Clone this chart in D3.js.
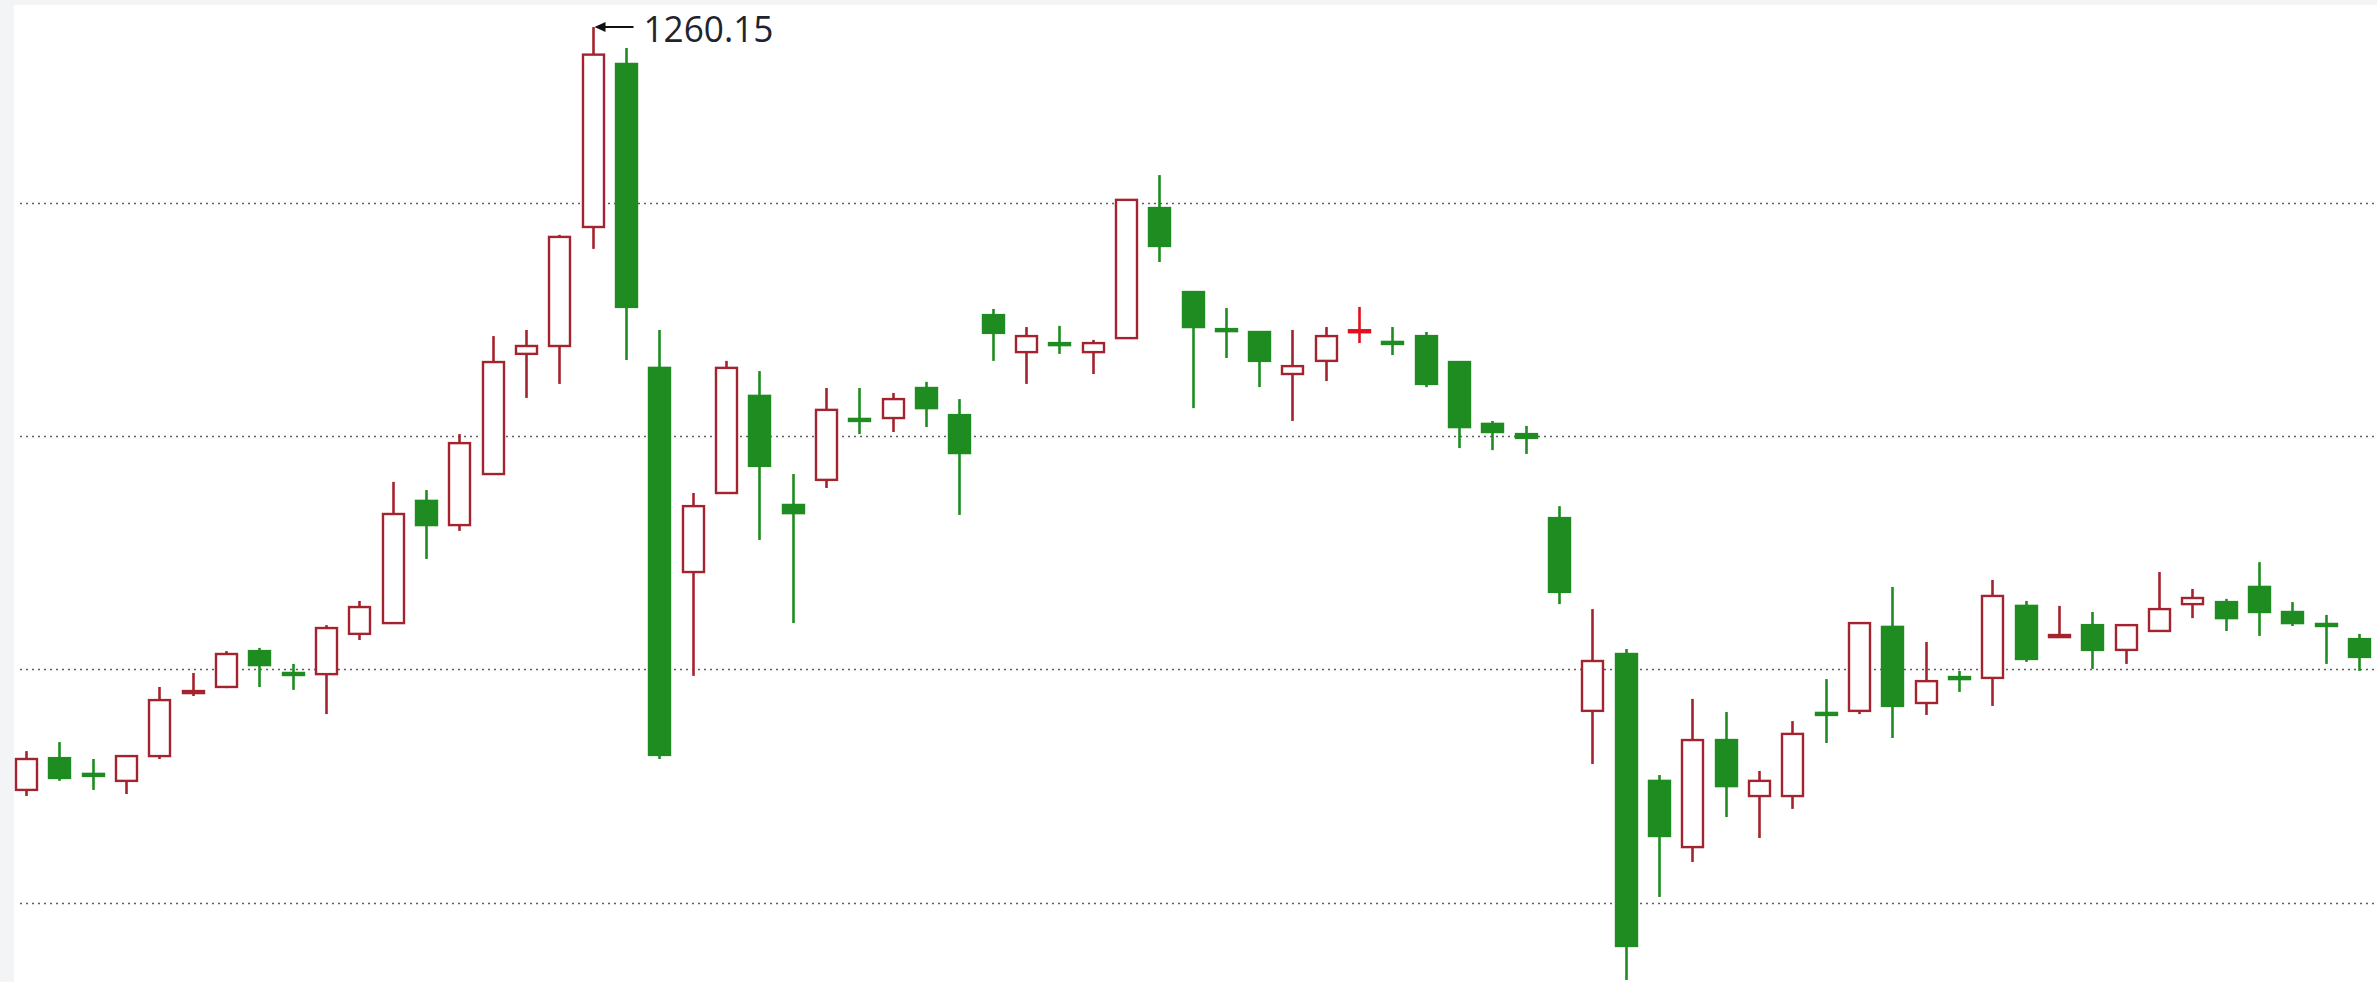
<!DOCTYPE html>
<html>
<head>
<meta charset="utf-8">
<script src="https://cdn.jsdelivr.net/npm/d3@7"></script>
<style>
  html, body { margin: 0; padding: 0; background: #f3f4f6; }
  svg { display: block; }
</style>
</head>
<body>
<svg id="chart" width="2377" height="982"></svg>
<script>
// ---- data ----
const days = d3.range(1, 72).map(String);
const opens  = [998.6,1009.5,1004.1,1001.7,1010.2,1031.8,1033.9,1046.2,1038.7,1038.3,1052.1,1055.8,1097.7,1089.4,1106.9,1148.1,1150.8,1191.6,1247.5,1143.3,1073.3,1100.4,1133.7,1096.3,1104.9,1125.8,1126.1,1136.4,1127.1,1161.4,1148.7,1151.8,1148.7,1153.5,1198.1,1169.3,1156.6,1155.6,1141.2,1145.7,1156.2,1152.2,1154.2,1145.3,1124.1,1120.6,1091.8,1025.7,1045.2,1001.7,979.0,1015.7,996.5,996.5,1025.0,1025.7,1054.5,1028.4,1037.3,1037.0,1061.7,1051.0,1055.1,1046.6,1053.1,1062.3,1063.0,1068.2,1059.6,1055.5,1050.3];
const highs  = [1011.9,1015.0,1009.2,1010.4,1033.9,1038.7,1046.2,1047.3,1041.8,1055.1,1063.4,1104.2,1101.4,1120.6,1154.2,1156.3,1188.9,1260.15,1253.0,1156.3,1100.4,1145.7,1142.2,1106.9,1136.4,1136.4,1134.7,1138.5,1132.6,1163.5,1157.3,1157.7,1152.9,1201.2,1209.4,1169.5,1163.8,1155.8,1156.3,1157.3,1164.2,1157.3,1155.6,1145.5,1125.1,1123.4,1095.9,1060.6,1046.9,1003.7,1029.8,1025.3,1005.1,1022.2,1036.6,1056.0,1068.2,1049.3,1039.4,1070.6,1063.4,1061.7,1059.6,1055.3,1073.3,1067.5,1064.1,1076.7,1063.0,1058.6,1052.1];
const lows   = [996.5,1001.7,998.6,997.2,1009.2,1030.8,1033.5,1033.9,1032.9,1024.6,1050.0,1055.5,1077.8,1087.4,1106.6,1133.0,1137.8,1184.1,1146.0,1009.2,1037.7,1100.1,1084.3,1055.8,1102.1,1120.6,1121.3,1123.0,1092.9,1145.7,1137.8,1148.1,1141.2,1153.3,1179.6,1129.5,1146.7,1136.7,1125.1,1138.8,1151.8,1147.7,1136.7,1115.8,1115.1,1113.8,1062.3,1007.5,933.4,961.9,973.9,989.3,982.1,992.1,1014.7,1024.6,1016.4,1024.3,1032.2,1027.4,1042.5,1050.7,1040.1,1041.8,1052.9,1057.5,1053.1,1051.4,1054.8,1041.8,1039.4];
const closes = [1009.2,1002.7,1003.4,1010.2,1029.4,1032.5,1045.2,1041.4,1038.0,1054.1,1061.3,1093.2,1089.4,1117.5,1145.3,1150.8,1188.2,1250.7,1164.2,1010.6,1095.9,1143.3,1109.7,1093.5,1128.9,1125.1,1132.6,1129.5,1114.1,1155.3,1154.2,1151.1,1151.8,1200.9,1185.1,1157.3,1155.9,1145.7,1143.9,1154.2,1156.2,1151.5,1137.8,1123.0,1121.3,1119.3,1066.5,1042.8,945.1,982.8,1015.7,999.9,1001.7,1017.8,1024.3,1055.8,1027.4,1035.9,1036.6,1065.1,1043.5,1051.7,1046.6,1055.1,1060.6,1064.4,1057.5,1059.6,1055.8,1054.8,1044.2];
const gridValues = [1200, 1120, 1040, 960];
const peakLabel = "1260.15";

// ---- layout ----
const W = 2377, H = 982;
const svg = d3.select("#chart");

svg.append("rect").attr("x", 0).attr("y", 0).attr("width", W).attr("height", H).attr("fill", "#f3f4f6");
svg.append("rect").attr("x", 14).attr("y", 5).attr("width", W - 14).attr("height", H - 5).attr("fill", "#ffffff");

const x = d3.scalePoint().domain(days).range([26, 2359]);
const y = d3.scaleLinear().domain([960, 1200]).range([902.5, 202.5]);

// gridlines
svg.append("g").selectAll("line").data(gridValues).join("line")
  .attr("x1", 20).attr("x2", W)
  .attr("y1", d => Math.round(y(d)) + 0.5).attr("y2", d => Math.round(y(d)) + 0.5)
  .attr("stroke", "#5e5e5e").attr("stroke-width", 1.4)
  .attr("stroke-dasharray", "2,4");

const data = days.map((d, i) => ({ day: d, o: opens[i], h: highs[i], l: lows[i], c: closes[i] }));

const UP = "#a3232e", DOWN = "#1e8c20", FLAT = "#e0101e";
const colorOf = d => d.c > d.o ? UP : (d.c < d.o ? DOWN : FLAT);
const bodyW = 21;

const g = svg.append("g");
const candles = g.selectAll("g.candle").data(data).join("g").attr("class", "candle");

// wicks
candles.append("line")
  .attr("x1", d => Math.round(x(d.day)) + 0.5)
  .attr("x2", d => Math.round(x(d.day)) + 0.5)
  .attr("y1", d => y(d.h)).attr("y2", d => y(d.l))
  .attr("stroke", colorOf).attr("stroke-width", 2.6);

// bodies
candles.append("rect")
  .attr("x", d => Math.round(x(d.day)) - bodyW / 2 + 0.5)
  .attr("width", bodyW)
  .attr("y", d => Math.min(y(d.o), y(d.c)))
  .attr("height", d => Math.max(2, Math.abs(y(d.o) - y(d.c))))
  .attr("fill", d => d.c > d.o ? "#ffffff" : colorOf(d))
  .attr("stroke", colorOf).attr("stroke-width", 2.4);

// peak annotation
const peakIdx = highs.indexOf(d3.max(highs));
const px = Math.round(x(days[peakIdx])) + 0.5;
const py = y(highs[peakIdx]);
svg.append("line")
  .attr("x1", px + 8).attr("x2", px + 40)
  .attr("y1", py).attr("y2", py)
  .attr("stroke", "#111").attr("stroke-width", 2);
svg.append("path")
  .attr("d", `M${px + 1},${py} L${px + 12},${py - 5} L${px + 12},${py + 5} Z`)
  .attr("fill", "#111");
svg.append("text")
  .attr("x", px + 50).attr("y", py + 15)
  .attr("font-family", "'Open Sans', 'Noto Sans', sans-serif")
  .attr("font-size", 36)
  .attr("fill", "#1f2330")
  .attr("textLength", 130).attr("lengthAdjust", "spacingAndGlyphs")
  .text(peakLabel);
</script>
</body>
</html>
